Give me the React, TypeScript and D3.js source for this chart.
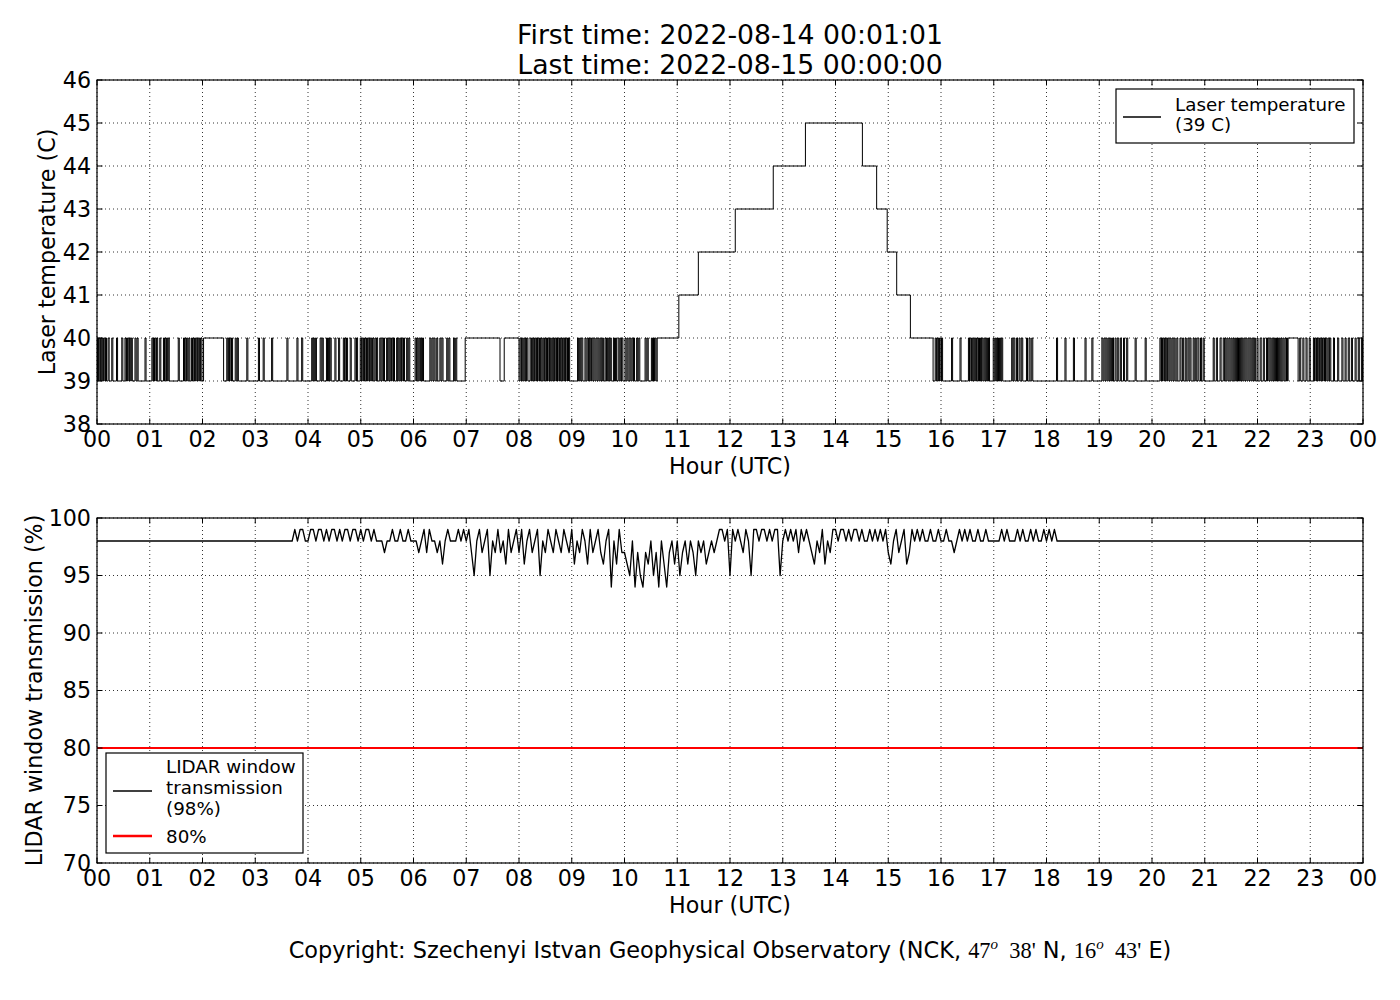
import * as d3 from 'd3';

// ---- data ----
const hourLabels = ['00', '01', '02', '03', '04', '05', '06', '07', '08', '09', '10', '11',
    '12', '13', '14', '15', '16', '17', '18', '19', '20', '21', '22', '23', '00'];
const tempTicks = [38, 39, 40, 41, 42, 43, 44, 45, 46];
const transTicks = [70, 75, 80, 85, 90, 95, 100];

const tempBase = 39;
const tempHigh = 40;
// spans where the laser sits at 40 C for a while
const tempHighSpans: [number, number][] = [[2.02, 2.40], [6.98, 7.64], [7.72, 8.0], [22.58, 22.77]];
// short one-sample jumps 39 -> 40 -> 39 (hour of the jump)
const tempPulseHours = [
    0.01, 0.04, 0.07, 0.10, 0.13, 0.16, 0.21, 0.28, 0.37, 0.47, 0.53, 0.56, 0.59, 0.62, 0.65, 0.72, 0.76, 0.91,
    1.04, 1.07, 1.10, 1.13, 1.19, 1.26, 1.29, 1.32, 1.35, 1.54, 1.64, 1.67, 1.70, 1.74, 1.79, 1.82, 1.85, 1.88, 1.91, 1.94, 1.97,
    2.46, 2.49, 2.52, 2.55, 2.62, 2.66, 2.84,
    3.06, 3.15, 3.31, 3.60, 3.79, 3.88,
    4.07, 4.10, 4.14, 4.23, 4.27, 4.35, 4.39, 4.42, 4.51, 4.58, 4.67, 4.70, 4.73, 4.80, 4.89, 4.92, 4.99,
    5.02, 5.05, 5.08, 5.11, 5.14, 5.17, 5.20, 5.23, 5.27, 5.30, 5.36, 5.40, 5.43, 5.49, 5.52, 5.56, 5.59, 5.62,
    5.68, 5.71, 5.75, 5.78, 5.81, 5.87, 5.91,
    6.03, 6.06, 6.10, 6.13, 6.17, 6.31, 6.35, 6.39, 6.44, 6.50, 6.54, 6.63, 6.67, 6.76, 6.80,
    8.02, 8.05, 8.09, 8.12, 8.15, 8.21, 8.24, 8.27, 8.30, 8.33, 8.36, 8.39, 8.42, 8.46, 8.49, 8.52, 8.55, 8.58,
    8.62, 8.65, 8.68, 8.71, 8.74, 8.77, 8.80, 8.83, 8.86, 8.89, 8.92, 8.94,
    9.11, 9.15, 9.19, 9.25, 9.29, 9.32, 9.35, 9.38, 9.42, 9.46, 9.50, 9.54, 9.58, 9.63, 9.66, 9.70, 9.73, 9.79,
    9.83, 9.88, 9.92, 9.95, 10.01, 10.05, 10.10, 10.14, 10.17, 10.23, 10.27, 10.39, 10.43, 10.51, 10.55, 10.58,
    15.89, 15.92, 15.95, 15.98, 16.01, 16.20, 16.36, 16.52, 16.55, 16.58, 16.62, 16.65, 16.68, 16.71, 16.75,
    16.78, 16.82, 16.86, 16.90, 16.99, 17.03, 17.07, 17.11, 17.15, 17.34, 17.38, 17.43, 17.48, 17.53, 17.62,
    17.67, 17.72, 18.19, 18.35, 18.51, 18.73, 18.86, 19.05, 19.09, 19.13, 19.17, 19.21, 19.25, 19.30, 19.35,
    19.40, 19.46, 19.52, 19.68, 19.87, 20.15, 20.18, 20.21, 20.24, 20.27, 20.30, 20.34, 20.38, 20.42, 20.47,
    20.53, 20.58, 20.63, 20.68, 20.72, 20.78, 20.82, 20.87, 20.92, 20.97, 21.16, 21.22, 21.29, 21.35, 21.38,
    21.42, 21.46, 21.50, 21.54, 21.58, 21.62, 21.66, 21.70, 21.74, 21.78, 21.82, 21.86, 21.90, 21.94, 21.99,
    22.05, 22.11, 22.17, 22.20, 22.24, 22.28, 22.32, 22.36, 22.40, 22.44, 22.48, 22.52, 22.55,
    22.80, 22.86, 22.92, 22.98, 23.06, 23.09, 23.12, 23.15, 23.18, 23.21, 23.24, 23.27, 23.30, 23.34, 23.37,
    23.44, 23.52, 23.60, 23.66, 23.72, 23.78, 23.85, 23.91, 23.97,
];
// the warm-up staircase around midday: [hour, new value]
const tempRamp: [number, number][] = [
    [10.62, 40], [11.03, 41], [11.40, 42], [12.10, 43], [12.82, 44], [13.43, 45],
    [14.51, 44], [14.78, 43], [14.98, 42], [15.16, 41], [15.42, 40], [15.85, 39],
];

const transBase = 98;
const transStartHour = 3.70;
const transStepHours = 0.05;
const transValues = [
    98, 99, 98, 99, 99, 98, // 03:42 - 03:57
    98, 99, 99, 98, 99, 99, 98, 99, 98, 99, 99, 98, 99, 98, 99, 99, 98, 99, 99, 98, // 04
    99, 98, 99, 99, 98, 99, 98, 98, 98, 97, 98, 98, 99, 98, 98, 99, 98, 98, 99, 98, // 05
    98, 98, 97, 98, 99, 97, 99, 98, 98, 97, 98, 96, 98, 99, 98, 98, 98, 99, 98, 99, // 06
    98, 99, 97, 95, 98, 99, 97, 98, 99, 95, 98, 97, 99, 97, 98, 96, 99, 97, 98, 99, // 07
    97, 99, 96, 98, 99, 97, 98, 99, 95, 98, 97, 99, 98, 97, 99, 98, 97, 99, 98, 97, // 08
    99, 96, 98, 97, 99, 98, 96, 99, 97, 98, 99, 97, 96, 98, 99, 94, 98, 96, 99, 97, // 09
    97, 96, 95, 98, 94, 97, 95, 94, 97, 96, 98, 95, 97, 94, 98, 96, 94, 97, 98, 96, // 10
    98, 95, 97, 98, 96, 98, 97, 95, 98, 97, 98, 96, 97, 98, 97, 98, 99, 99, 98, 99, // 11
    95, 99, 98, 99, 98, 97, 99, 98, 95, 99, 99, 98, 99, 99, 98, 99, 98, 99, 99, 95, // 12
    98, 99, 98, 99, 98, 99, 97, 99, 98, 99, 98, 97, 96, 98, 97, 99, 96, 98, 97, 99, // 13
    99, 98, 99, 99, 98, 99, 98, 99, 99, 98, 99, 98, 98, 99, 98, 99, 98, 99, 98, 99, // 14
    97, 96, 98, 99, 97, 98, 99, 96, 97, 99, 98, 99, 98, 99, 98, 98, 99, 98, 98, 99, // 15
    98, 98, 99, 98, 98, 97, 98, 99, 98, 99, 98, 99, 98, 98, 99, 98, 98, 99, 98, 98, // 16
    98, 98, 98, 99, 98, 99, 98, 98, 98, 99, 98, 99, 98, 98, 99, 98, 99, 98, 98, 99, // 17
    98, 99, 98, 99, 98, 98, // 18:00 - 18:15
];
const threshold = 80;

// ---- layout (matplotlib figure, 1400x1000) ----
const W = 1400;
const H = 1000;
const plotLeft = 97;
const plotRight = 1363;
const FONT = '"DejaVu Sans", Verdana, sans-serif';
const TICK = 5.5;
const LW = 1.3;

const x = d3.scaleLinear().domain([0, 24]).range([plotLeft, plotRight]);
const yTemp = d3.scaleLinear().domain([38, 46]).range([424, 80]);
const yTrans = d3.scaleLinear().domain([70, 100]).range([863, 518]);

function buildTempPoints(): [number, number][] {
    const PULSE = 0.02;
    const events: { t: number; v: number }[] = [];
    tempHighSpans.forEach(([a, b]) => { events.push({ t: a, v: tempHigh }, { t: b, v: tempBase }); });
    tempPulseHours.forEach(h => { events.push({ t: h, v: tempHigh }, { t: h + PULSE, v: tempBase }); });
    tempRamp.forEach(([t, v]) => events.push({ t, v }));
    events.sort((a, b) => a.t - b.t);
    const pts: [number, number][] = [[0, tempBase]];
    let cur = tempBase;
    events.forEach(e => {
        pts.push([e.t, cur], [e.t, e.v]);
        cur = e.v;
    });
    pts.push([24, cur]);
    return pts;
}

function buildTransPoints(): [number, number][] {
    const pts: [number, number][] = [[0, transBase]];
    transValues.forEach((v, i) => pts.push([transStartHour + i * transStepHours, v]));
    pts.push([24, transBase]);
    return pts;
}

interface PanelProps {
    y: d3.ScaleLinear<number, number>;
    ticks: number[];
    ylabel: string;
    ylabelX: number;
    children?: React.ReactNode;
}

function Panel({ y, ticks, ylabel, ylabelX, children }: PanelProps) {
    const [bottom, top] = y.range();
    const mid = (top + bottom) / 2;
    return (
        <g>
            {/* dotted grid */}
            <g stroke="#000" strokeWidth={0.8} strokeDasharray="1,3">
                {hourLabels.map((_, i) => (
                    <line key={'gx' + i} x1={x(i)} x2={x(i)} y1={top} y2={bottom} />
                ))}
                {ticks.map(t => (
                    <line key={'gy' + t} x1={plotLeft} x2={plotRight} y1={y(t)} y2={y(t)} />
                ))}
            </g>
            {children}
            {/* frame */}
            <rect x={plotLeft} y={top} width={plotRight - plotLeft} height={bottom - top}
                fill="none" stroke="#000" strokeWidth={1.2} />
            {/* inward ticks on all four sides */}
            <g stroke="#000" strokeWidth={1}>
                {hourLabels.map((_, i) => (
                    <g key={'tx' + i}>
                        <line x1={x(i)} x2={x(i)} y1={bottom} y2={bottom - TICK} />
                        <line x1={x(i)} x2={x(i)} y1={top} y2={top + TICK} />
                    </g>
                ))}
                {ticks.map(t => (
                    <g key={'ty' + t}>
                        <line x1={plotLeft} x2={plotLeft + TICK} y1={y(t)} y2={y(t)} />
                        <line x1={plotRight} x2={plotRight - TICK} y1={y(t)} y2={y(t)} />
                    </g>
                ))}
            </g>
            <g fontFamily={FONT} fontSize={22.2} fill="#000">
                {hourLabels.map((lab, i) => (
                    <text key={'lx' + i} x={x(i)} y={bottom + 23} textAnchor="middle">{lab}</text>
                ))}
                {ticks.map(t => (
                    <text key={'ly' + t} x={plotLeft - 6} y={y(t)} dy="0.36em" textAnchor="end">{t}</text>
                ))}
                <text x={x(12)} y={bottom + 50} textAnchor="middle">Hour (UTC)</text>
                <text transform={`translate(${ylabelX},${mid}) rotate(-90)`} dy="0.36em" textAnchor="middle">{ylabel}</text>
            </g>
        </g>
    );
}

export default function App() {
    const line = d3.line<[number, number]>();
    const tempPath = line(buildTempPoints().map(([h, v]) => [x(h), yTemp(v)] as [number, number]));
    const transPath = line(buildTransPoints().map(([h, v]) => [x(h), yTrans(v)] as [number, number]));
    const serif = '"Liberation Serif", "DejaVu Serif", serif';

    return (
        <svg width={W} height={H} viewBox={`0 0 ${W} ${H}`}
            style={{ position: 'absolute', left: 0, top: 0, background: '#fff' }}>
            <rect width={W} height={H} fill="#fff" />
            <g fontFamily={FONT} fontSize={26.7} textAnchor="middle">
                <text x={x(12)} y={44}>First time: 2022-08-14 00:01:01</text>
                <text x={x(12)} y={74}>Last time: 2022-08-15 00:00:00</text>
            </g>

            <Panel y={yTemp} ticks={tempTicks} ylabel="Laser temperature (C)" ylabelX={47}>
                <path d={tempPath ?? ''} fill="none" stroke="#000" strokeWidth={1} />
            </Panel>

            <Panel y={yTrans} ticks={transTicks} ylabel="LIDAR window transmission (%)" ylabelX={34}>
                <path d={transPath ?? ''} fill="none" stroke="#000" strokeWidth={LW} strokeLinejoin="round" />
                <line x1={plotLeft} x2={plotRight} y1={yTrans(threshold)} y2={yTrans(threshold)}
                    stroke="#ff0000" strokeWidth={2} />
            </Panel>

            {/* top legend */}
            <g fontFamily={FONT} fontSize={18.3}>
                <rect x={1116} y={89} width={238} height={54} fill="#fff" stroke="#000" strokeWidth={1.2} />
                <line x1={1123} x2={1161} y1={117} y2={117} stroke="#000" strokeWidth={LW} />
                <text x={1175} y={111}>Laser temperature</text>
                <text x={1175} y={131}>(39 C)</text>
            </g>

            {/* bottom legend */}
            <g fontFamily={FONT} fontSize={18.3}>
                <rect x={106} y={753} width={197} height={100} fill="#fff" stroke="#000" strokeWidth={1.2} />
                <line x1={113} x2={152} y1={791} y2={791} stroke="#000" strokeWidth={LW} />
                <text x={166} y={773}>LIDAR window</text>
                <text x={166} y={794}>transmission</text>
                <text x={166} y={815}>(98%)</text>
                <line x1={113} x2={152} y1={836} y2={836} stroke="#ff0000" strokeWidth={2.5} />
                <text x={166} y={843}>80%</text>
            </g>

            <text x={x(12)} y={958} fontFamily={FONT} fontSize={22.4} textAnchor="middle" style={{ whiteSpace: 'pre' }}>
                <tspan>Copyright: Szechenyi Istvan Geophysical Observatory (NCK, </tspan>
                <tspan fontFamily={serif}>47</tspan>
                <tspan fontFamily={serif} fontStyle="italic" fontSize={15} dy={-9}>o</tspan>
                <tspan fontFamily={serif} dy={9}>{'  38\''}</tspan>
                <tspan>{' N, '}</tspan>
                <tspan fontFamily={serif}>16</tspan>
                <tspan fontFamily={serif} fontStyle="italic" fontSize={15} dy={-9}>o</tspan>
                <tspan fontFamily={serif} dy={9}>{'  43\''}</tspan>
                <tspan>{' E)'}</tspan>
            </text>
        </svg>
    );
}
